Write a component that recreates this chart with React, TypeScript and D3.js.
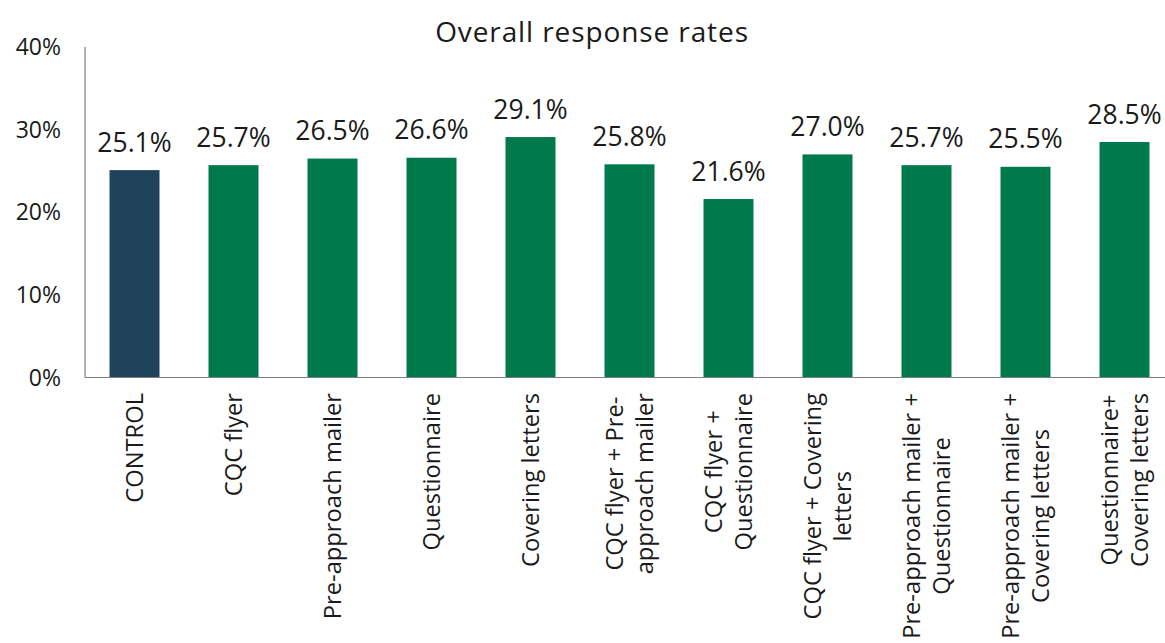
import React, { useEffect, useRef } from "react";
import * as d3 from "d3";

const categories: string[][] = [
  ["CONTROL"],
  ["CQC flyer"],
  ["Pre-approach mailer"],
  ["Questionnaire"],
  ["Covering letters"],
  ["CQC flyer + Pre-", "approach mailer"],
  ["CQC flyer +", "Questionnaire"],
  ["CQC flyer + Covering", "letters"],
  ["Pre-approach mailer +", "Questionnaire"],
  ["Pre-approach mailer +", "Covering letters"],
  ["Questionnaire+", "Covering letters"],
];
const values: number[] = [25.1, 25.7, 26.5, 26.6, 29.1, 25.8, 21.6, 27.0, 25.7, 25.5, 28.5];
const yTicks: number[] = [0, 10, 20, 30, 40];
const title = "Overall response rates";

const W = 1165;
const H = 643;
const FONT = "'Open Sans', sans-serif";
const WEIGHT = 400;
const NAVY = "#1F435A";
const GREEN = "#007A4D";
const TEXT = "#1a1a1a";

export default function App() {
  const ref = useRef<SVGSVGElement>(null);

  useEffect(() => {
    const svg = d3.select(ref.current);
    svg.selectAll("*").remove();

    const x0 = 85;
    const x = d3
      .scaleBand<number>()
      .domain(d3.range(categories.length))
      .range([x0, x0 + 99 * categories.length])
      .paddingInner(0.495)
      .paddingOuter(0.2475);
    const y = d3.scaleLinear().domain([0, 40]).range([377.5, 47]);

    // title
    svg
      .append("text")
      .attr("x", 592)
      .attr("y", 42)
      .attr("text-anchor", "middle")
      .attr("font-family", FONT)
      .attr("font-weight", WEIGHT)
      .attr("font-size", 28)
      .attr("letter-spacing", 0.9)
      .attr("fill", TEXT)
      .text(title);

    // bars
    svg
      .append("g")
      .selectAll("rect")
      .data(values)
      .join("rect")
      .attr("x", (_, i) => x(i)!)
      .attr("width", x.bandwidth())
      .attr("y", (d) => y(d))
      .attr("height", (d) => y(0) - y(d))
      .attr("fill", (_, i) => (i === 0 ? NAVY : GREEN));

    // value labels
    svg
      .append("g")
      .selectAll("text")
      .data(values)
      .join("text")
      .attr("x", (_, i) => x(i)! + x.bandwidth() / 2)
      .attr("y", (d) => y(d) - 18.5)
      .attr("text-anchor", "middle")
      .attr("font-family", FONT)
      .attr("font-weight", WEIGHT)
      .attr("font-size", 26.5)
      .attr("fill", TEXT)
      .text((d) => d.toFixed(1) + "%");

    // y axis
    svg
      .append("line")
      .attr("x1", x0)
      .attr("x2", x0)
      .attr("y1", y(40))
      .attr("y2", y(0))
      .attr("stroke", "#7f7f7f")
      .attr("stroke-width", 1.2);
    svg
      .append("line")
      .attr("x1", x0)
      .attr("x2", W)
      .attr("y1", y(0))
      .attr("y2", y(0))
      .attr("stroke", "#7f7f7f")
      .attr("stroke-width", 1.2);
    svg
      .append("g")
      .selectAll("text")
      .data(yTicks)
      .join("text")
      .attr("x", 61)
      .attr("y", (d) => y(d))
      .attr("dy", "0.35em")
      .attr("text-anchor", "end")
      .attr("font-family", FONT)
      .attr("font-weight", WEIGHT)
      .attr("font-size", 23)
      .attr("fill", TEXT)
      .text((d) => d + "%");

    // category labels
    const lh = 30;
    const topY = 393;
    categories.forEach((lines, i) => {
      const cx = x(i)! + x.bandwidth() / 2;
      const g = svg
        .append("g")
        .attr("transform", `translate(${cx},${topY}) rotate(-90)`);
      const texts = lines.map((ln, j) =>
        g
          .append("text")
          .attr("y", (j - (lines.length - 1) / 2) * lh)
          .attr("dy", "0.35em")
          .attr("text-anchor", "middle")
          .attr("font-family", FONT)
          .attr("font-weight", WEIGHT)
          .attr("font-size", 23.7)
          .attr("fill", TEXT)
          .text(ln)
      );
      const maxLen = d3.max(texts, (t) => (t.node() as SVGTextElement).getComputedTextLength()) || 0;
      texts.forEach((t) => t.attr("x", -maxLen / 2));
    });
  }, []);

  return (
    <svg
      ref={ref}
      width={W}
      height={H}
      style={{ position: "absolute", left: 0, top: 0, background: "#fff" }}
    />
  );
}
